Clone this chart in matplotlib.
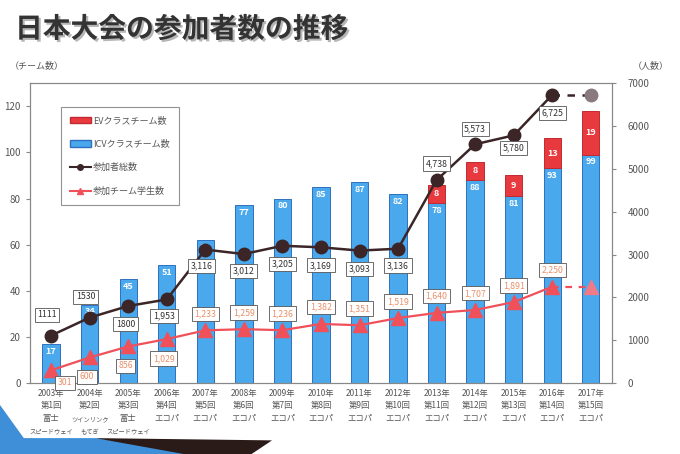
import matplotlib
matplotlib.use("Agg")
import matplotlib.pyplot as plt
import matplotlib.patheffects as pe
from matplotlib.patches import Polygon
from matplotlib.lines import Line2D
from matplotlib.patches import Patch
import numpy as np

plt.rcParams['font.family'] = ['Noto Sans CJK JP', 'DejaVu Sans']

# データ
years = ["2003年", "2004年", "2005年", "2006年", "2007年", "2008年", "2009年", "2010年",
         "2011年", "2012年", "2013年", "2014年", "2015年", "2016年", "2017年"]
rounds = ["第1回", "第2回", "第3回", "第4回", "第5回", "第6回", "第7回", "第8回", "第9回",
          "第10回", "第11回", "第12回", "第13回", "第14回", "第15回"]
venues = ["富士", "ツインリンク", "富士", "エコパ", "エコパ", "エコパ", "エコパ", "エコパ",
          "エコパ", "エコパ", "エコパ", "エコパ", "エコパ", "エコパ", "エコパ"]
venues2 = ["スピードウェイ", "もてぎ", "スピードウェイ", "", "", "", "", "", "", "", "", "", "", "", ""]
icv_teams = [17, 34, 45, 51, 62, 77, 80, 85, 87, 82, 78, 88, 81, 93, 99]
ev_teams = [0, 0, 0, 0, 0, 0, 0, 0, 0, 0, 8, 8, 9, 13, 19]
total_people = [1111, 1530, 1800, 1953, 3116, 3012, 3205, 3169, 3093, 3136, 4738, 5573, 5780, 6725]
total_labels = ["1111", "1530", "1800", "1,953", "3,116", "3,012", "3,205", "3,169", "3,093",
                "3,136", "4,738", "5,573", "5,780", "6,725"]
students = [301, 600, 856, 1029, 1233, 1259, 1236, 1382, 1351, 1519, 1640, 1707, 1891, 2250]
student_labels = ["301", "600", "856", "1,029", "1,233", "1,259", "1,236", "1,382", "1,351",
                  "1,519", "1,640", "1,707", "1,891", "2,250"]

# ラベル位置 (points)
total_off = [(-3, 15), (-3, 15), (-2, -13), (-2, -12), (-3, -12), (0, -12), (0, -13), (0, -13),
             (0, -13), (0, -12), (0, 12), (0, 11), (0, -9), (0, -13)]
student_off = [(10, -9), (-2, -14), (-2, -14), (-2, -14), (0, 12), (0, 12), (0, 12), (0, 12),
               (0, 12), (0, 12), (0, 12), (0, 12), (0, 12), (0, 12)]

blue = "#4aa8ec"
red = "#e8393f"
dark = "#3b2527"
pink = "#f0505a"

fig = plt.figure(figsize=(6.8, 4.54), dpi=100)
fig.patch.set_facecolor("white")

# 左下の装飾 (スライド背景)
fig.patches.append(Polygon([(0, 0.108), (0.035, 0.035), (0.14, 0.035), (0.3, 0.0), (0, 0)],
                           closed=True, transform=fig.transFigure, fc="#3f8fd8", ec="none", zorder=-2))
fig.patches.append(Polygon([(0.14, 0.035), (0.4, 0.03), (0.37, 0.0), (0.27, 0.0)],
                           closed=True, transform=fig.transFigure, fc="#2a1a18", ec="none", zorder=-2))

fig.text(0.022, 0.935, "日本大会の参加者数の推移", fontsize=20, fontweight="bold", color="#333333",
         va="center", path_effects=[pe.withSimplePatchShadow(offset=(1.5, -1.5), alpha=0.3)])

ax = fig.add_axes([0.044, 0.156, 0.856, 0.661])
ax2 = ax.twinx()
x = np.arange(len(years))

ax.bar(x, icv_teams, width=0.45, color=blue, edgecolor="#2f6fc0", linewidth=0.7, zorder=2)
ev_idx = [i for i in range(len(x)) if ev_teams[i] > 0]
ax.bar(x[ev_idx], [ev_teams[i] for i in ev_idx], width=0.45,
       bottom=[icv_teams[i] for i in ev_idx], color=red, edgecolor="#c02a30",
       linewidth=0.7, zorder=2)
for i in range(len(x)):
    ax.text(x[i], icv_teams[i] - 1.2, str(icv_teams[i]), ha="center", va="top", color="white",
            fontsize=6.5, fontweight="bold", zorder=3)
    if ev_teams[i] > 0:
        ax.text(x[i], icv_teams[i] + ev_teams[i] / 2, str(ev_teams[i]), ha="center", va="center",
                color="white", fontsize=6.5, fontweight="bold", zorder=3)

ax.set_ylim(0, 130)
ax.set_yticks(range(0, 121, 20))
ax.set_xlim(-0.55, len(years) - 0.45)
ax.set_xticks(x)
ax.set_xticklabels([f"{y}\n{r}\n{v}" if len(v) < 4 else f"{y}\n{r}" for y, r, v in zip(years, rounds, venues)],
                   fontsize=6, color="#555555", linespacing=1.5)
# 小さい会場名
for i in range(len(x)):
    if len(venues[i]) >= 4:
        ax.annotate(venues[i], (x[i], 0), xycoords=ax.get_xaxis_transform(), xytext=(0, -26),
                    textcoords="offset points", ha="center", va="center", fontsize=4.5,
                    color="#555555")
    if venues2[i]:
        ax.annotate(venues2[i], (x[i], 0), xycoords=ax.get_xaxis_transform(), xytext=(0, -35),
                    textcoords="offset points", ha="center", va="center", fontsize=4.5,
                    color="#555555")

n = len(total_people)
ax2.plot(x[:n], total_people, color=dark, lw=1.8, marker="o", ms=9, zorder=4)
ax2.plot([x[n - 1], x[n]], [total_people[-1], total_people[-1]], color=dark, lw=1.8,
         ls=(0, (3, 3)), zorder=4)
ax2.plot([x[n]], [total_people[-1]], marker="o", ms=9, color="#8a7a80", zorder=4)
ax2.plot(x[:n], students, color=pink, lw=1.6, marker="^", ms=10, zorder=4)
ax2.plot([x[n - 1], x[n]], [students[-1], students[-1]], color=pink, lw=1.6,
         ls=(0, (3, 3)), zorder=4)
ax2.plot([x[n]], [students[-1]], marker="^", ms=10, color="#f07a88", zorder=4)

box = dict(boxstyle="square,pad=0.3", fc="white", ec="#555555", lw=0.6)
for i in range(n):
    ax2.annotate(total_labels[i], (x[i], total_people[i]), xytext=total_off[i],
                 textcoords="offset points", ha="center", va="center", fontsize=6.3,
                 color="#333333", bbox=box, zorder=5)
    ax2.annotate(student_labels[i], (x[i], students[i]), xytext=student_off[i],
                 textcoords="offset points", ha="center", va="center", fontsize=6.3,
                 color="#e8906a", bbox=box, zorder=5)

ax2.set_ylim(0, 7000)
ax2.set_yticks(range(0, 7001, 1000))

for a in (ax, ax2):
    a.tick_params(axis="y", labelsize=7, labelcolor="#555555", color="#888888", length=3)
    for s in a.spines.values():
        s.set_color("#888888")
        s.set_linewidth(0.8)
ax.tick_params(axis="x", length=0, pad=4)
ax2.tick_params(axis="y", pad=8)

fig.text(0.015, 0.855, "（チーム数）", fontsize=6.5, color="#555555", va="center")
fig.text(0.93, 0.855, "（人数）", fontsize=6.5, color="#555555", va="center")

handles = [Patch(fc=red, ec="#c02a30"), Patch(fc=blue, ec="#2f6fc0"),
           Line2D([], [], color=dark, marker="o", ms=4, lw=1.5),
           Line2D([], [], color=pink, marker="^", ms=5, lw=1.5)]
names = ["EVクラスチーム数", "ICVクラスチーム数", "参加者総数", "参加チーム学生数"]
leg = ax2.legend(handles, names, loc="upper left", bbox_to_anchor=(0.045, 0.935), fontsize=6.5,
                 frameon=True, fancybox=False, edgecolor="#777777", labelspacing=1.6,
                 handlelength=2.4, handletextpad=0.2, borderpad=1.0, labelcolor="#555555")
leg.get_frame().set_linewidth(0.8)
leg.set_zorder(6)

fig.savefig("out.png", dpi=100)
